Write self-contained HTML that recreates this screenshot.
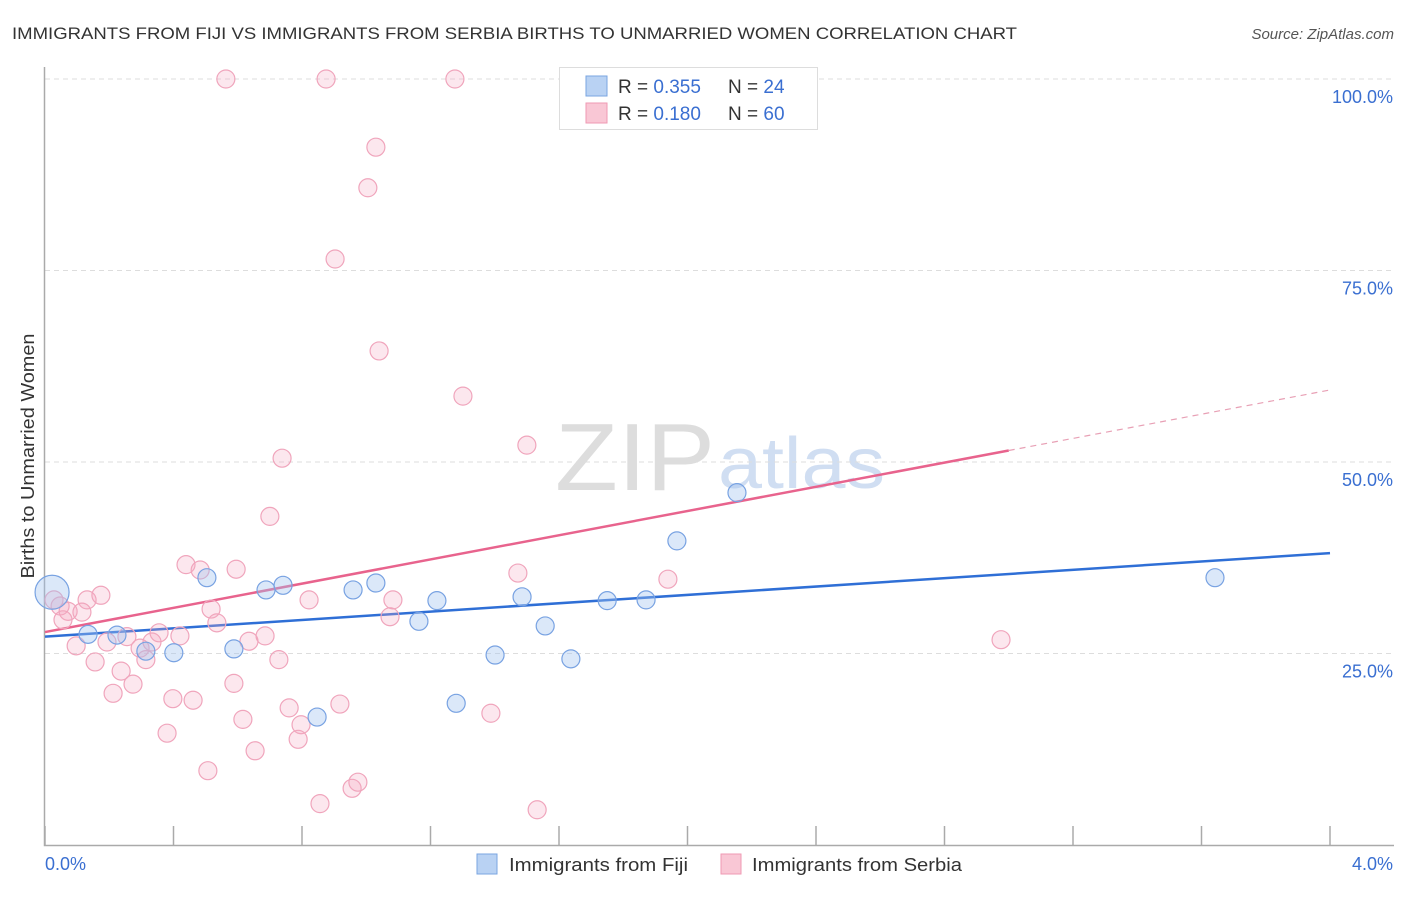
<!DOCTYPE html>
<html><head><meta charset="utf-8"><style>
body{margin:0;background:#fff;font-family:"Liberation Sans",sans-serif;}
svg text{font-family:"Liberation Sans",sans-serif;}
</style></head><body>
<svg id="chart" width="1406" height="892">
<text x="12" y="39" font-size="17" fill="#333" textLength="1005" lengthAdjust="spacingAndGlyphs">IMMIGRANTS FROM FIJI VS IMMIGRANTS FROM SERBIA BIRTHS TO UNMARRIED WOMEN CORRELATION CHART</text>
<text x="1394" y="39" font-size="15" fill="#555" text-anchor="end" font-style="italic">Source: ZipAtlas.com</text>
<text x="34" y="456" font-size="18" fill="#333" text-anchor="middle" transform="rotate(-90 34 456)" textLength="245" lengthAdjust="spacingAndGlyphs">Births to Unmarried Women</text>
<text x="555" y="490" font-size="96" fill="#ddd" font-family="Liberation Serif" textLength="160" lengthAdjust="spacingAndGlyphs">ZIP</text>
<text x="718" y="488" font-size="72" fill="#d0def2" textLength="167" lengthAdjust="spacingAndGlyphs">atlas</text>
<g id="grid"></g><g id="axes"></g><g id="lines"></g><g id="pts"></g>
<g>
<rect x="559.5" y="67.5" width="258" height="62" fill="#fff" stroke="#ddd"/>
<rect x="586" y="76" width="21" height="20" fill="#b9d2f3" stroke="#7aa5e0"/>
<rect x="586" y="103" width="21" height="20" fill="#f9c7d5" stroke="#ef9ab3"/>
<text x="618" y="93" font-size="19" fill="#333">R = <tspan fill="#3a6fd1">0.355</tspan></text>
<text x="728" y="93" font-size="19" fill="#333">N = <tspan fill="#3a6fd1">24</tspan></text>
<text x="618" y="120" font-size="19" fill="#333">R =  <tspan fill="#3a6fd1">0.180</tspan></text>
<text x="728" y="120" font-size="19" fill="#333">N = <tspan fill="#3a6fd1">60</tspan></text>
</g>
<g>
<rect x="477" y="854" width="20" height="20" fill="#b9d2f3" stroke="#7aa5e0"/>
<text x="509" y="871" font-size="18" fill="#333" textLength="179" lengthAdjust="spacingAndGlyphs">Immigrants from Fiji</text>
<rect x="721" y="854" width="20" height="20" fill="#f9c7d5" stroke="#ef9ab3"/>
<text x="752" y="871" font-size="18" fill="#333" textLength="210" lengthAdjust="spacingAndGlyphs">Immigrants from Serbia</text>
</g>
</svg>
<script>
const fijiX=[0.022,0.134,0.224,0.314,0.401,0.504,0.588,0.688,0.741,0.847,0.959,1.030,1.164,1.220,1.280,1.401,1.485,1.557,1.637,1.750,1.871,1.967,2.154,3.642];
const fijiY=[33.0,27.5,27.4,25.3,25.1,34.9,25.6,33.3,33.9,16.7,33.3,34.2,29.2,31.9,18.5,24.8,32.4,28.6,24.3,31.9,32.0,39.7,46.0,34.9];
const serbiaX=[0.563,0.875,1.276,1.030,1.005,0.903,1.040,1.301,1.500,0.738,0.700,0.439,0.483,0.595,0.028,0.047,0.072,0.056,0.131,0.174,0.115,0.097,0.156,0.193,0.255,0.212,0.237,0.274,0.296,0.333,0.314,0.355,0.420,0.398,0.461,0.380,0.507,0.517,0.535,0.588,0.635,0.616,0.654,0.685,0.728,0.760,0.797,0.788,0.822,0.856,0.918,0.956,0.974,1.074,1.083,1.388,1.472,1.532,1.939,2.976];
const serbiaY=[100,100,100,91.1,85.8,76.5,64.5,58.6,52.2,50.5,42.9,36.6,35.9,36.0,32.0,31.2,30.5,29.4,32.0,32.6,30.4,26.0,23.9,26.5,27.2,19.8,22.7,21.0,25.7,26.5,24.2,27.7,27.3,19.1,18.9,14.6,9.7,30.8,29.0,21.1,26.6,16.4,12.3,27.3,24.2,17.9,15.7,13.8,32.0,5.4,18.4,7.4,8.2,29.8,32.0,17.2,35.5,4.6,34.7,26.8];
const fijiTrend=[27.2,38.1];
const serbiaTrend=[27.8,59.4];
const yTicks=[25,50,75,100];
const xTickLabels=["0.0%","4.0%"];
const NS="http://www.w3.org/2000/svg";
const X=v=>45+v/4*1285, Y=v=>845-v*7.66;
function mk(tag,attrs,parent){const e=document.createElementNS(NS,tag);for(const k in attrs)e.setAttribute(k,attrs[k]);document.getElementById(parent).appendChild(e);return e;}
yTicks.forEach(t=>{
 const l=mk('line',{x1:45,x2:1394,y1:Y(t),y2:Y(t),stroke:'#ddd','stroke-dasharray':'5,4'},'grid');
 
 
 const tx=mk('text',{x:1393,y:Y(t)+24,'font-size':18,fill:'#3a6fd1','text-anchor':'end'},'grid');
 tx.textContent=t.toFixed(1)+'%';
 
 
});
const ax=mk('path',{d:'M44.5,67 V845.5 H1394',stroke:'#aaa',fill:'none','stroke-width':1.5},'axes');


for(let i=0;i<=10;i++){const xx=45+i*128.5;const t=mk('line',{x1:xx,x2:xx,y1:826,y2:845,stroke:'#aaa','stroke-width':1.5},'axes');
 
 }
const xl0=mk('text',{x:45,y:870,'font-size':18,fill:'#3a6fd1'},'axes');xl0.textContent=xTickLabels[0];


const xl1=mk('text',{x:1393,y:870,'font-size':18,fill:'#3a6fd1','text-anchor':'end'},'axes');xl1.textContent=xTickLabels[1];


const tb=mk('line',{x1:X(0),y1:Y(fijiTrend[0]),x2:X(4),y2:Y(fijiTrend[1]),stroke:'#2f6fd6','stroke-width':2.5},'lines');


const sv=x=>serbiaTrend[0]+(serbiaTrend[1]-serbiaTrend[0])*x/4;
const tp=mk('line',{x1:X(0),y1:Y(sv(0)),x2:X(3.0),y2:Y(sv(3.0)),stroke:'#e8638d','stroke-width':2.5},'lines');


const td=mk('line',{x1:X(3.0),y1:Y(sv(3.0)),x2:X(4),y2:Y(sv(4)),stroke:'#e8a0b5','stroke-width':1.2,'stroke-dasharray':'6,5'},'lines');


serbiaX.forEach((x,i)=>{const c=mk('circle',{cx:X(x),cy:Y(serbiaY[i]),r:9,fill:'rgba(246,170,195,0.28)',stroke:'#f0a5bc','stroke-width':1.2},'pts');
 
 });
fijiX.forEach((x,i)=>{const c=mk('circle',{cx:X(x),cy:Y(fijiY[i]),r:i===0?17:9,fill:'rgba(160,195,240,0.38)',stroke:'#78a2e2','stroke-width':1.2},'pts');
 
 });
</script>
</body></html>
